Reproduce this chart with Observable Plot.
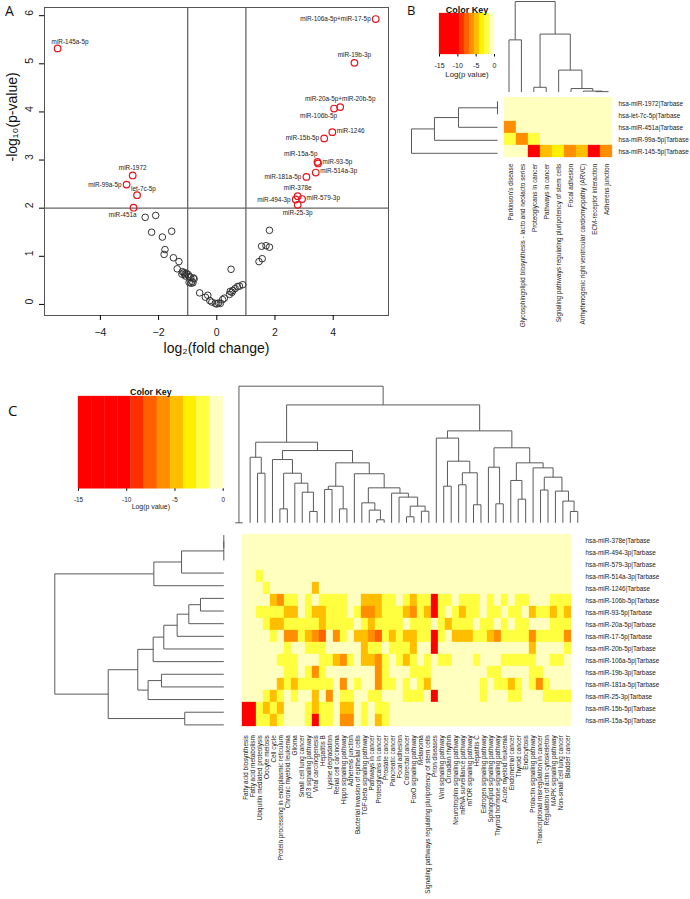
<!DOCTYPE html>
<html><head><meta charset="utf-8">
<script src="https://cdn.jsdelivr.net/npm/d3@7"></script>
<script src="https://cdn.jsdelivr.net/npm/@observablehq/plot@0.6"></script>
<style>
body{margin:0;background:#fff;}
#fig{position:relative;width:690px;height:899px;overflow:hidden;}
.plabel{position:absolute;font-family:"Open Sans",sans-serif;font-size:15px;color:#111;line-height:1.25;}
</style></head><body><div id="fig"></div>
<script>
// ---------------- Panel A: volcano data ----------------
const sigNames = ["miR-145a-5p","miR-106a-5p+miR-17-5p","miR-19b-3p","miR-20a-5p+miR-20b-5p","miR-106b-5p","miR-1246","miR-15b-5p","miR-15a-5p","miR-93-5p","miR-514a-3p","miR-181a-5p","miR-378e","miR-494-3p","miR-579-3p","miR-25-3p","miR-1972","miR-99a-5p","let-7c-5p","miR-451a"];
const sigFC    = [-5.47, 5.46, 4.73, 4.24, 4.03, 3.97, 3.69, 3.46, 3.48, 3.40, 3.08, 2.78, 2.71, 2.93, 2.78, -2.89, -3.10, -2.74, -2.86];
const sigP     = [5.32, 5.93, 5.02, 4.10, 4.07, 3.58, 3.45, 2.96, 2.93, 2.74, 2.65, 2.25, 2.18, 2.19, 2.07, 2.68, 2.49, 2.27, 2.01];
const sigPos   = ["topright","left","top","top","bottomleft","right","left","topleft","right","right","left","top","left","right","bottom","top","left","topright","bottomleft"];
const nsFC = [-2.46,-2.10,-2.24,-1.55,-1.87,-1.78,-1.81,-1.49,-1.30,-1.36,-1.18,-1.13,-1.20,-1.10,-1.05,-0.98,-0.95,-1.08,-0.90,-0.80,-0.95,-0.88,-0.85,-0.82,-0.78,-0.59,-0.39,-0.31,-0.24,-0.17,-0.05,0.00,0.06,0.12,0.20,0.26,0.49,0.44,0.46,0.52,0.55,0.63,0.71,0.78,0.89,1.81,1.54,1.69,1.81,1.45,1.56];
const nsP  = [1.81,1.85,1.50,1.52,1.40,1.14,1.04,0.97,0.89,0.74,0.68,0.66,0.63,0.62,0.65,0.62,0.58,0.59,0.56,0.55,0.46,0.44,0.48,0.45,0.53,0.24,0.15,0.19,0.08,0.05,0.02,0.01,0.03,0.02,0.10,0.13,0.73,0.21,0.27,0.25,0.29,0.33,0.37,0.38,0.41,1.54,1.21,1.22,1.19,0.89,0.95];
const xTicksA = [-4,-2,0,2,4];
const yTicksA = [0,1,2,3,4,5,6];

// ---------------- colour key ----------------
const keyThresholds = [-9.545,-8.182,-6.818,-5.455,-4.091,-2.727,-1.364];
const keyColors = ["#FF0000","#FF3000","#FF6000","#FF8F00","#FFBF00","#FFEF00","#FFFF40","#FFFFBF"];
const keyTicks = [-15,-10,-5,0];

// ---------------- Panel B ----------------
const rowsB = ["hsa-miR-1972|Tarbase","hsa-let-7c-5p|Tarbase","hsa-miR-451a|Tarbase","hsa-miR-99a-5p|Tarbase","hsa-miR-145-5p|Tarbase"];
const colsB = ["Parkinson's disease","Glycosphingolipid biosynthesis - lacto and neolacto series","Proteoglycans in cancer","Pathways in cancer","Signaling pathways regulating pluripotency of stem cells","Focal adhesion","Arrhythmogenic right ventricular cardiomyopathy (ARVC)","ECM-receptor interaction","Adherens junction"];
const valsB = [
  [0,0,0,0,0,0,0,0,0],
  [0,0,0,0,0,0,0,0,0],
  [-6,0,0,0,0,0,0,0,0],
  [-2.5,-6,-2,0,0,0,0,0,0],
  [0,0,-12,-5,-4,-5.5,-5,-12,-5.5]
];
const colTreeB = [[0,1,0.576],[[2,3,0.052],[4,[5,[6,[7,8,0.004],0.01],0.038],0.242],0.640],1.0];
const rowTreeB = [[[[0,1,0],2,0.453],3,0.733],4,1.0];

// ---------------- Panel C ----------------
const rowsC = ["hsa-miR-378e|Tarbase","hsa-miR-494-3p|Tarbase","hsa-miR-579-3p|Tarbase","hsa-miR-514a-3p|Tarbase","hsa-miR-1246|Tarbase","hsa-miR-106b-5p|Tarbase","hsa-miR-93-5p|Tarbase","hsa-miR-20a-5p|Tarbase","hsa-miR-17-5p|Tarbase","hsa-miR-20b-5p|Tarbase","hsa-miR-106a-5p|Tarbase","hsa-miR-19b-3p|Tarbase","hsa-miR-181a-5p|Tarbase","hsa-miR-25-3p|Tarbase","hsa-miR-15b-5p|Tarbase","hsa-miR-15a-5p|Tarbase"];
const colsC = ["Fatty acid biosynthesis","Fatty acid metabolism","Ubiquitin mediated proteolysis","Oocyte meiosis","Cell cycle","Protein processing in endoplasmic reticulum","Chronic myeloid leukemia","Glioma","Small cell lung cancer","p53 signaling pathway","Viral carcinogenesis","Hepatitis B","Lysine degradation","Renal cell carcinoma","Hippo signaling pathway","Adherens junction","Bacterial invasion of epithelial cells","TGF-beta signaling pathway","Pathways in cancer","Proteoglycans in cancer","Prostate cancer","Pancreatic cancer","Focal adhesion","Colorectal cancer","FoxO signaling pathway","Melanoma","Signaling pathways regulating pluripotency of stem cells","Prion diseases","Wnt signaling pathway","Circadian rhythm","Neurotrophin signaling pathway","mRNA surveillance pathway","mTOR signaling pathway","Hepatitis C","Estrogen signaling pathway","Sphingolipid signaling pathway","Thyroid hormone signaling pathway","Acute myeloid leukemia","Endometrial cancer","Thyroid cancer","Endocytosis","Prolactin signaling pathway","Transcriptional misregulation in cancer","Regulation of actin cytoskeleton","MAPK signaling pathway","Non-small cell lung cancer","Bladder cancer"];
const valsC = [
  [0,0,0,0,0,0,0,0,0,0,0,0,0,0,0,0,0,0,0,0,0,0,0,0,0,0,0,0,0,0,0,0,0,0,0,0,0,0,0,0,0,0,0,0,0,0,0],
  [0,0,0,0,0,0,0,0,0,0,0,0,0,0,0,0,0,0,0,0,0,0,0,0,0,0,0,0,0,0,0,0,0,0,0,0,0,0,0,0,0,0,0,0,0,0,0],
  [0,0,0,0,0,0,0,0,0,0,0,0,0,0,0,0,0,0,0,0,0,0,0,0,0,0,0,0,0,0,0,0,0,0,0,0,0,0,0,0,0,0,0,0,0,0,0],
  [0,0,-2,0,0,0,0,0,0,0,0,0,0,0,0,0,0,0,0,0,0,0,0,0,0,0,0,0,0,0,0,0,0,0,0,0,0,0,0,0,0,0,0,0,0,0,0],
  [0,0,0,-2,0,0,0,0,0,0,-5,0,0,0,0,0,0,0,0,0,0,0,0,0,0,0,0,0,0,0,0,0,0,0,0,0,0,0,0,0,0,0,0,0,0,0,0],
  [0,0,0,0,-5,-6,-2,-2,0,-2,0,-2,-2,-2,-2,0,0,-5,-5,-5,-2,-2,0,-2,-5,-2,-2,-12,-2,-2,0,-2,-2,-2,0,-2,0,-2,0,-2,-2,0,0,0,-2,-2,-2],
  [0,0,-2,-2,-2,-2,-5,-5,0,-2,-5,-5,-2,-2,-2,0,-2,-6,-6,-5,-2,-2,-2,-5,-6,-2,-5,-12,-2,0,-2,-5,-2,-2,0,-2,-2,0,-2,-2,0,-5,-2,-2,-5,-2,-5],
  [0,0,0,-2,-5,-5,-2,-2,-2,-2,-2,-5,-2,-2,-2,-2,0,-2,-5,-2,-2,-2,-2,0,-2,-2,-2,0,-2,-5,-2,-2,-2,0,-2,-2,0,-2,0,-2,-2,0,0,0,-2,-2,-2],
  [0,0,0,0,-2,0,-6,-6,-2,-5,-6,-7.5,0,-6,-2,0,-5,-5,-6,-7.5,-2,-5,-2,-5,-5,-2,-2,-12,-2,0,-5,-5,-5,-2,-2,-5,-6,-2,-2,-2,-2,-6,-2,-2,-2,-2,-6],
  [0,0,0,0,0,0,-2,0,0,-2,-2,-2,0,0,0,0,0,-5,-2,-2,0,-2,-2,-2,-5,0,0,-12,0,0,0,0,0,0,0,0,0,0,0,0,0,-5,0,0,0,0,-2],
  [0,0,0,0,0,-2,-2,-2,0,0,0,-2,-2,-5,-6,-2,0,-5,-5,-6,-2,0,-2,-5,-2,0,-2,0,-2,-2,0,0,0,-2,0,0,0,-2,-2,-2,-2,-2,0,0,-2,-2,0],
  [0,0,0,0,0,0,-2,-2,0,-2,-6,-2,0,0,0,0,0,0,0,-6,-2,0,0,0,-2,-2,-2,0,0,0,0,0,0,0,0,-2,-2,0,0,0,0,-2,-2,0,0,0,0],
  [0,0,0,0,0,-5,-2,-5,-2,-2,-2,-2,-2,0,-6,0,-2,0,0,-6,-2,-2,0,-2,0,-2,-5,0,0,0,0,0,0,0,-2,0,-2,-2,-5,-2,0,-2,-6,-2,0,0,0],
  [0,0,0,-2,-5,-2,0,-2,0,0,-5,0,-6,0,-2,-2,0,0,-2,-2,0,0,0,-2,-2,-2,0,-12,0,0,0,0,0,0,-2,0,0,0,-2,-2,0,0,0,-2,-2,-2,-2],
  [-12,-12,-2,-5,-2,-5,0,0,0,-2,-5,-2,-2,0,-5,-5,0,-2,0,-2,-2,0,0,0,0,0,0,0,0,0,0,0,0,0,0,0,0,0,0,0,0,0,0,0,0,0,0],
  [-12,-12,-2,-2,-5,-2,0,0,0,-2,-12,-2,-2,0,-6.5,-6.5,0,-2,0,-5,-2,0,0,0,0,0,0,0,0,0,0,0,0,0,0,0,0,0,0,0,0,0,0,0,0,0,0]
];
const colTreeC = [[0,1,0.0],
  [[[2,[3,4,0.363],0.480],
    [[5,[[6,7,0.102],[8,[9,[10,11,0.083],0.224],0.290],0.363],0.463],
     [[[12,13,0.244],[14,15,0.102],0.268],
      [16,[[17,[18,[19,20,0.022],0.093],0.146],[21,[22,[[23,24,0.044],[25,26,0.085],0.122],0.188],0.217],0.256],0.359],0.439],0.529],0.590],
   [[27,[[28,29,0.268],[[30,31,0.278],[32,33,0.132],0.366],0.451],0.620],
    [[34,[35,36,0.139],0.407],
     [[37,[38,39,0.173],0.310],[40,[[41,42,0.240],[43,[44,[45,46,0.083],0.159],0.232],0.334],0.402],0.439],0.549],0.673],0.863],1.0];
const rowTreeC = [[[[[0,1,0],2,0],3,0.250],4,0.414],
  [[[[[[[5,6,0.138],7,0.207],8,0.276],9,0.355],10,0.418],[[11,12,0.369],13,0.448],0.509],[14,15,0.231],0.684],1.0];

// ---------------- helpers ----------------
const W = 690, H = 899;
const fig = document.getElementById("fig");
const st = {background:"none", overflow:"visible", maxWidth:"none", position:"absolute", left:"0px", top:"0px", fontFamily:"'Liberation Sans', Arial, sans-serif"};
const colorOpts = {type:"threshold", domain:keyThresholds, range:keyColors};
function frame(l, r, t, b){ return {width:W, height:H, marginLeft:l, marginRight:W-r, marginTop:t, marginBottom:H-b, style:st}; }
function add(p){ fig.append(p); }
function dendroSegs(tree){
  const segs = [];
  (function walk(node){
    if (typeof node === "number") return {pos:node, h:0};
    const [a,b,h] = node; const A = walk(a), B = walk(b);
    segs.push({p1:A.pos,h1:A.h,p2:A.pos,h2:h},{p1:B.pos,h1:B.h,p2:B.pos,h2:h},{p1:A.pos,h1:h,p2:B.pos,h2:h});
    return {pos:(A.pos+B.pos)/2, h};
  })(tree);
  return segs;
}
function colDendro(tree, n, l, r, t, b){
  return Plot.plot({...frame(l,r,t,b), x:{domain:[-0.5,n-0.5], axis:null}, y:{domain:[0,1], axis:null},
    marks:[Plot.link(dendroSegs(tree), {x1:"p1", x2:"p2", y1:"h1", y2:"h2", stroke:"#5a5a5a", strokeWidth:1})]});
}
function rowDendro(tree, n, l, r, t, b){
  return Plot.plot({...frame(l,r,t,b), x:{domain:[0,1], reverse:true, axis:null}, y:{domain:[-0.5,n-0.5], reverse:true, axis:null},
    marks:[Plot.link(dendroSegs(tree), {x1:"h1", x2:"h2", y1:"p1", y2:"p2", stroke:"#5a5a5a", strokeWidth:1})]});
}
function heat(rows, cols, vals, l, r, t, b, fs){
  const data = [];
  rows.forEach((rw,i)=>cols.forEach((c,j)=>data.push({row:rw, col:c, v:vals[i][j]})));
  return Plot.plot({...frame(l,r,t,b), x:{domain:cols, padding:0}, y:{domain:rows, padding:0}, color:colorOpts,
    marks:[
      Plot.cell(data, {x:"col", y:"row", fill:"v", stroke:"v", strokeWidth:0.3, inset:0}),
      Plot.axisY({anchor:"right", tickSize:0, tickPadding:4, fontSize:fs, label:null, fill:"#222"}),
      Plot.axisX({anchor:"bottom", tickSize:0, tickRotate:-90, tickPadding:4, fontSize:fs, label:null, fill:"#222"})
    ]});
}
const keyBins = d3.range(11).map(i=>({a:-15+i*15/11, b:-15+(i+1)*15/11, v:-15+(i+0.5)*15/11}));
function key(l, r, t, b, tickFs, tickPad, labFs, labDy, titFs, titDy){
  return Plot.plot({...frame(l,r,t,b), x:{domain:[-15,0]}, y:{domain:[0,1], axis:null}, color:colorOpts,
    marks:[
      Plot.rect(keyBins, {x1:"a", x2:"b", y1:0, y2:1, fill:"v", stroke:"v", strokeWidth:0.3}),
      Plot.axisX({ticks:keyTicks, tickSize:2.5, tickPadding:tickPad, fontSize:tickFs, label:null, tickFormat:d=>String(d), fill:"#222"}),
      Plot.text(["Log(p value)"], {frameAnchor:"bottom", dy:labDy, fontSize:labFs, fill:"#222"}),
      Plot.text(["Color Key"], {frameAnchor:"top", dy:titDy, fontSize:titFs, fontWeight:"bold", fill:"#111"})
    ]});
}

// ---------------- Panel A ----------------
const sig = sigNames.map((n,i)=>({name:n, fc:sigFC[i], p:sigP[i], pos:sigPos[i]}));
const ns = nsFC.map((f,i)=>({fc:f, p:nsP[i]}));
const posCfg = {
  top:{textAnchor:"middle", dx:0, dy:-8},
  bottom:{textAnchor:"middle", dx:0, dy:8.5},
  left:{textAnchor:"end", dx:-5, dy:0},
  right:{textAnchor:"start", dx:4.5, dy:-1.5},
  topleft:{textAnchor:"end", dx:0, dy:-8},
  topright:{textAnchor:"start", dx:-6, dy:-6.5},
  bottomleft:{textAnchor:"end", dx:3, dy:7}
};
add(Plot.plot({...frame(44, 388, 7, 315), x:{domain:[-5.92,5.9]}, y:{domain:[-0.23,6.17]},
  marks:[
    Plot.ruleX([-1,1], {stroke:"#666", strokeWidth:1.3}),
    Plot.ruleY([2], {stroke:"#666", strokeWidth:1.3}),
    Plot.frame({stroke:"#555"}),
    Plot.axisX({ticks:xTicksA, tickSize:5, tickPadding:8, fontSize:10.5, label:null, fill:"#222"}),
    Plot.axisY({ticks:yTicksA, tickSize:5, label:null, tickFormat:()=>""}),
    Plot.text(yTicksA, {y:d=>d, text:d=>String(d), frameAnchor:"left", rotate:-90, dx:-15, fontSize:10.5, fill:"#222"}),
    Plot.dot(ns, {x:"fc", y:"p", r:3.3, stroke:"#333", strokeWidth:1, fill:"none"}),
    Plot.dot(sig, {x:"fc", y:"p", r:3.3, stroke:"#e8141c", strokeWidth:1.2, fill:"none"}),
    ...Object.keys(posCfg).map(k=>Plot.text(sig.filter(d=>d.pos===k), {x:"fc", y:"p", text:"name", ...posCfg[k], fontSize:6.4, fill:"#222"})),
    Plot.text(["log\u2082(fold change)"], {frameAnchor:"bottom", dy:37, fontSize:14, fill:"#111"}),
    Plot.text(["-log\u2081\u2080(p-value)"], {frameAnchor:"left", rotate:-90, dx:-32, fontSize:14, fill:"#111"})
  ]}));

// ---------------- Panel B ----------------
add(key(439, 494, 13, 54, 7, 6, 7.8, 22.5, 9, -6.5));
add(colDendro(colTreeB, colsB.length, 502.3, 614, 1, 91.5));
add(rowDendro(rowTreeB, rowsB.length, 411, 497, 94.3, 159.3));
add(heat(rowsB, colsB, valsB, 502.3, 614, 94.3, 159.3, 6.4));

// ---------------- Panel C ----------------
add(key(78, 222.7, 396, 488.3, 6.4, 6.4, 6.9, 19.7, 8.8, -8));
add(colDendro(colTreeC, colsC.length, 231, 581, 385.7, 522.3));
add(rowDendro(rowTreeC, rowsC.length, 54.3, 223.3, 528.3, 730.7));
add(heat(rowsC, colsC, valsC, 231, 581, 528.3, 730.7, 6.4));

// panel letters
[["A",5,2,14],["B",407,2,13],["C",8,401,15]].forEach(([t,x,y,fs])=>{
  const d = document.createElement("div"); d.className="plabel"; d.textContent=t;
  d.style.left=x+"px"; d.style.top=y+"px"; d.style.fontSize=fs+"px"; fig.append(d);
});
</script></body></html>
